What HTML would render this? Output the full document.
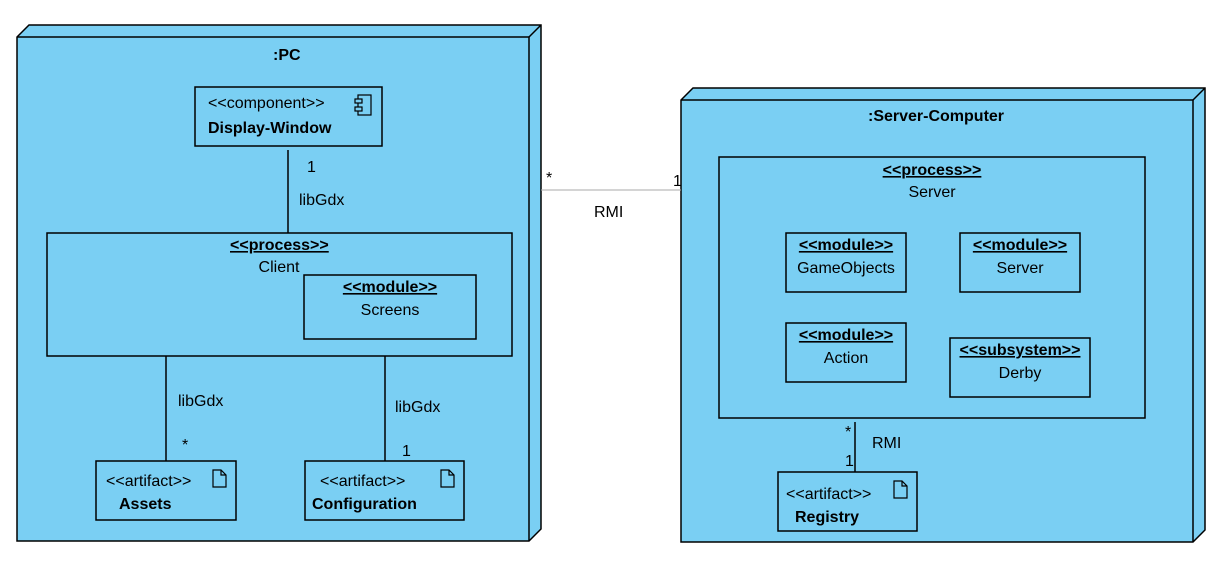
<!DOCTYPE html>
<html><head><style>body{margin:0;background:#fff}svg{display:block}text{font-family:"Liberation Sans",sans-serif;font-size:16px;fill:#000}</style></head><body>
<svg width="1226" height="573" viewBox="0 0 1226 573" xmlns="http://www.w3.org/2000/svg">
<g stroke="#000" stroke-width="1.5" fill="#7ACFF3">
<polygon points="17,37 29,25 541,25 541,529 529,541 17,541"/>
<line x1="17" y1="37" x2="529" y2="37"/><line x1="529" y1="37" x2="541" y2="25"/><line x1="529" y1="37" x2="529" y2="541"/>
<polygon points="681,100 693,88 1205,88 1205,530 1193,542 681,542"/>
<line x1="681" y1="100" x2="1193" y2="100"/><line x1="1193" y1="100" x2="1205" y2="88"/><line x1="1193" y1="100" x2="1193" y2="542"/>
</g>
<g stroke="#000" stroke-width="1.5" fill="none">
<rect x="195" y="87" width="187" height="59"/>
<rect x="47" y="233" width="465" height="123"/>
<rect x="304" y="275" width="172" height="64"/>
<rect x="96" y="461" width="140" height="59"/>
<rect x="305" y="461" width="159" height="59"/>
<rect x="719" y="157" width="426" height="261"/>
<rect x="786" y="233" width="120" height="59"/>
<rect x="960" y="233" width="120" height="59"/>
<rect x="786" y="323" width="120" height="59"/>
<rect x="950" y="338" width="140" height="59"/>
<rect x="778" y="472" width="139" height="59"/>
<line x1="288" y1="150" x2="288" y2="233"/>
<line x1="166" y1="356" x2="166" y2="461"/>
<line x1="385" y1="356" x2="385" y2="461"/>
<line x1="855" y1="422" x2="855" y2="472"/>
<rect x="358" y="95" width="13" height="20" stroke-width="1.2"/><rect x="355" y="99" width="7" height="4" fill="#7ACFF3" stroke-width="1.2"/><rect x="355" y="107" width="7" height="4" fill="#7ACFF3" stroke-width="1.2"/>
<path d="M213,470 h8 l5,5 v12 h-13 z M221,470 v5 h5" stroke-width="1.2"/>
<path d="M441,470 h8 l5,5 v12 h-13 z M449,470 v5 h5" stroke-width="1.2"/>
<path d="M894,481 h8 l5,5 v12 h-13 z M902,481 v5 h5" stroke-width="1.2"/>
</g>
<line x1="541" y1="190" x2="681" y2="190" stroke="#aaa" stroke-width="1"/>
<g>
<text x="273" y="60" font-weight="bold">:PC</text>
<text x="208" y="108">&lt;&lt;component&gt;&gt;</text>
<text x="208" y="133" font-weight="bold">Display-Window</text>
<text x="307" y="172">1</text><text x="299" y="205">libGdx</text>
<text x="230" y="250" font-weight="bold" text-decoration="underline">&lt;&lt;process&gt;&gt;</text>
<text x="279" y="272" text-anchor="middle">Client</text>
<text x="390" y="292" text-anchor="middle" font-weight="bold" text-decoration="underline">&lt;&lt;module&gt;&gt;</text>
<text x="390" y="315" text-anchor="middle">Screens</text>
<text x="178" y="406">libGdx</text><text x="182" y="450">*</text>
<text x="395" y="412">libGdx</text><text x="402" y="456">1</text>
<text x="106" y="486">&lt;&lt;artifact&gt;&gt;</text><text x="119" y="509" font-weight="bold">Assets</text>
<text x="320" y="486">&lt;&lt;artifact&gt;&gt;</text><text x="312" y="509" font-weight="bold">Configuration</text>
<text x="546" y="183">*</text><text x="673" y="186">1</text><text x="594" y="217">RMI</text>
<text x="936" y="121" text-anchor="middle" font-weight="bold">:Server-Computer</text>
<text x="932" y="175" text-anchor="middle" font-weight="bold" text-decoration="underline">&lt;&lt;process&gt;&gt;</text>
<text x="932" y="197" text-anchor="middle">Server</text>
<text x="846" y="250" text-anchor="middle" font-weight="bold" text-decoration="underline">&lt;&lt;module&gt;&gt;</text><text x="846" y="273" text-anchor="middle">GameObjects</text>
<text x="1020" y="250" text-anchor="middle" font-weight="bold" text-decoration="underline">&lt;&lt;module&gt;&gt;</text><text x="1020" y="273" text-anchor="middle">Server</text>
<text x="846" y="340" text-anchor="middle" font-weight="bold" text-decoration="underline">&lt;&lt;module&gt;&gt;</text><text x="846" y="363" text-anchor="middle">Action</text>
<text x="1020" y="355" text-anchor="middle" font-weight="bold" text-decoration="underline">&lt;&lt;subsystem&gt;&gt;</text><text x="1020" y="378" text-anchor="middle">Derby</text>
<text x="845" y="437" font-size="13">*</text><text x="872" y="448">RMI</text><text x="845" y="466" fill="#2a7a3a">1</text>
<text x="786" y="499">&lt;&lt;artifact&gt;&gt;</text><text x="795" y="522" font-weight="bold">Registry</text>
</g>
</svg>
</body></html>
